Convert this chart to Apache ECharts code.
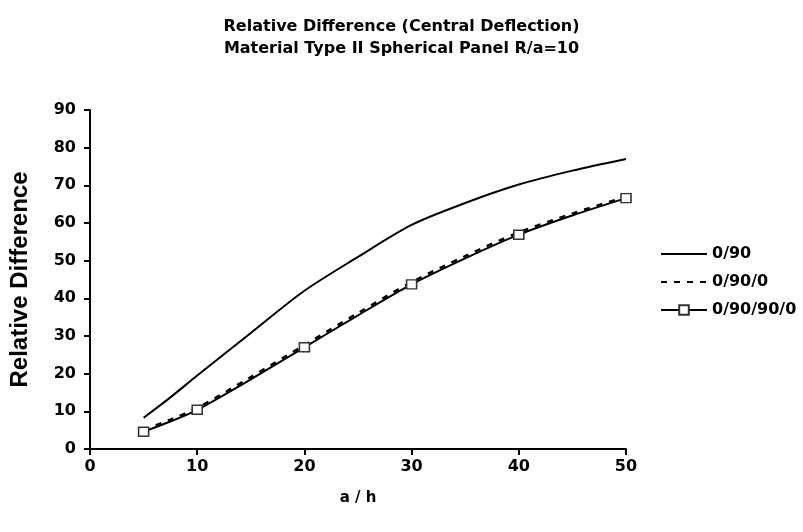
<!DOCTYPE html>
<html>
<head>
	<meta charset="utf-8">
	<title></title>
	<script src="https://cdn.jsdelivr.net/npm/echarts@6/dist/echarts.min.js"></script>
	<style>
		html,body{margin:0;padding:0;background:#fff;}
		#chart{width:803px;height:532px;}
	</style>
</head>
<body>
	<div id="chart"></div>
</body>
<script type="text/javascript">
	// a/h values
	var xs=[5,7.5,10,15,20,25,30,35,40,45,50];
	var markX=[5,10,20,30,40,50];
	var s090=[8.3,13.7,19.5,30.8,42,51,59.5,65.3,70.2,73.9,77];
	var s0900=[5.0,7.8,10.9,19.1,27.6,36.1,44.3,51.2,57.5,62.5,67.0];
	var s090900=[4.6,7.3,10.4,18.5,27,35.5,43.7,50.6,56.9,62,66.6];
	var names=['0/90','0/90/0','0/90/90/0'];

	var fnt='DejaVu Sans';

	function pairs(ys){
		let out=[];
		for(let i in xs){
			out.push([xs[i],ys[i]]);
		}
		return out;
	}
	function marked(ys){
		let out=[];
		for(let i in xs){
			let item={value:[xs[i],ys[i]]};
			if(markX.indexOf(xs[i])<0){
				item.symbol='none';
			}
			out.push(item);
		}
		return out;
	}

	var myChart=echarts.init(document.getElementById('chart'));
	var option={
		animation:false,
		title:{
			text:'Relative Difference (Central Deflection)\nMaterial Type II Spherical Panel R/a=10',
			left:'center',
			top:11,
			textStyle:{
				fontFamily:fnt,
				fontWeight:'bold',
				fontSize:16,
				lineHeight:22,
				color:'#000'
			}
		},
		legend:{
			orient:'vertical',
			left:655,
			top:241,
			itemWidth:46,
			itemHeight:12,
			itemGap:12,
			textStyle:{
				fontFamily:fnt,
				fontWeight:'bold',
				fontSize:16,
				color:'#000'
			},
			data:names
		},
		grid:{
			left:89,
			right:177,
			top:110,
			bottom:83
		},
		xAxis:{
			type:'value',
			min:0,
			max:50,
			interval:10,
			name:'a / h',
			nameLocation:'middle',
			nameGap:42,
			nameTextStyle:{
				fontFamily:fnt,
				fontWeight:'bold',
				fontSize:15,
				color:'#000'
			},
			axisLine:{lineStyle:{color:'#000',width:2}},
			axisTick:{show:true,length:6,lineStyle:{color:'#000',width:2}},
			axisLabel:{
				margin:10,
				fontFamily:fnt,
				fontWeight:'bold',
				fontSize:16,
				color:'#000'
			},
			splitLine:{show:false}
		},
		yAxis:{
			type:'value',
			min:0,
			max:90,
			interval:10,
			name:'Relative Difference',
			nameLocation:'middle',
			nameGap:58,
			nameTextStyle:{
				fontFamily:'Liberation Sans',
				fontWeight:'bold',
				fontSize:24,
				color:'#000'
			},
			axisLine:{show:true,lineStyle:{color:'#000',width:2}},
			axisTick:{show:true,length:6,lineStyle:{color:'#000',width:2}},
			axisLabel:{
				margin:14,
				fontFamily:fnt,
				fontWeight:'bold',
				fontSize:16,
				color:'#000'
			},
			splitLine:{show:false}
		},
		series:[
			{
				name:names[0],
				type:'line',
				smooth:0.3,
				symbol:'none',
				lineStyle:{color:'#000',width:2},
				itemStyle:{color:'rgba(0,0,0,0)',borderWidth:0},
				data:pairs(s090)
			},
			{
				name:names[1],
				type:'line',
				smooth:0.3,
				symbol:'none',
				lineStyle:{color:'#000',width:2.5,type:[6,7]},
				itemStyle:{color:'rgba(0,0,0,0)',borderWidth:0},
				data:pairs(s0900)
			},
			{
				name:names[2],
				type:'line',
				smooth:0.3,
				symbol:'rect',
				symbolSize:[10,9],
				showAllSymbol:true,
				lineStyle:{color:'#000',width:2},
				itemStyle:{color:'#fff',borderColor:'#333',borderWidth:1.5},
				data:marked(s090900)
			}
		]
	};
	myChart.setOption(option);

	window.addEventListener('resize',()=>{
		myChart.resize();
	});
</script>
</html>
